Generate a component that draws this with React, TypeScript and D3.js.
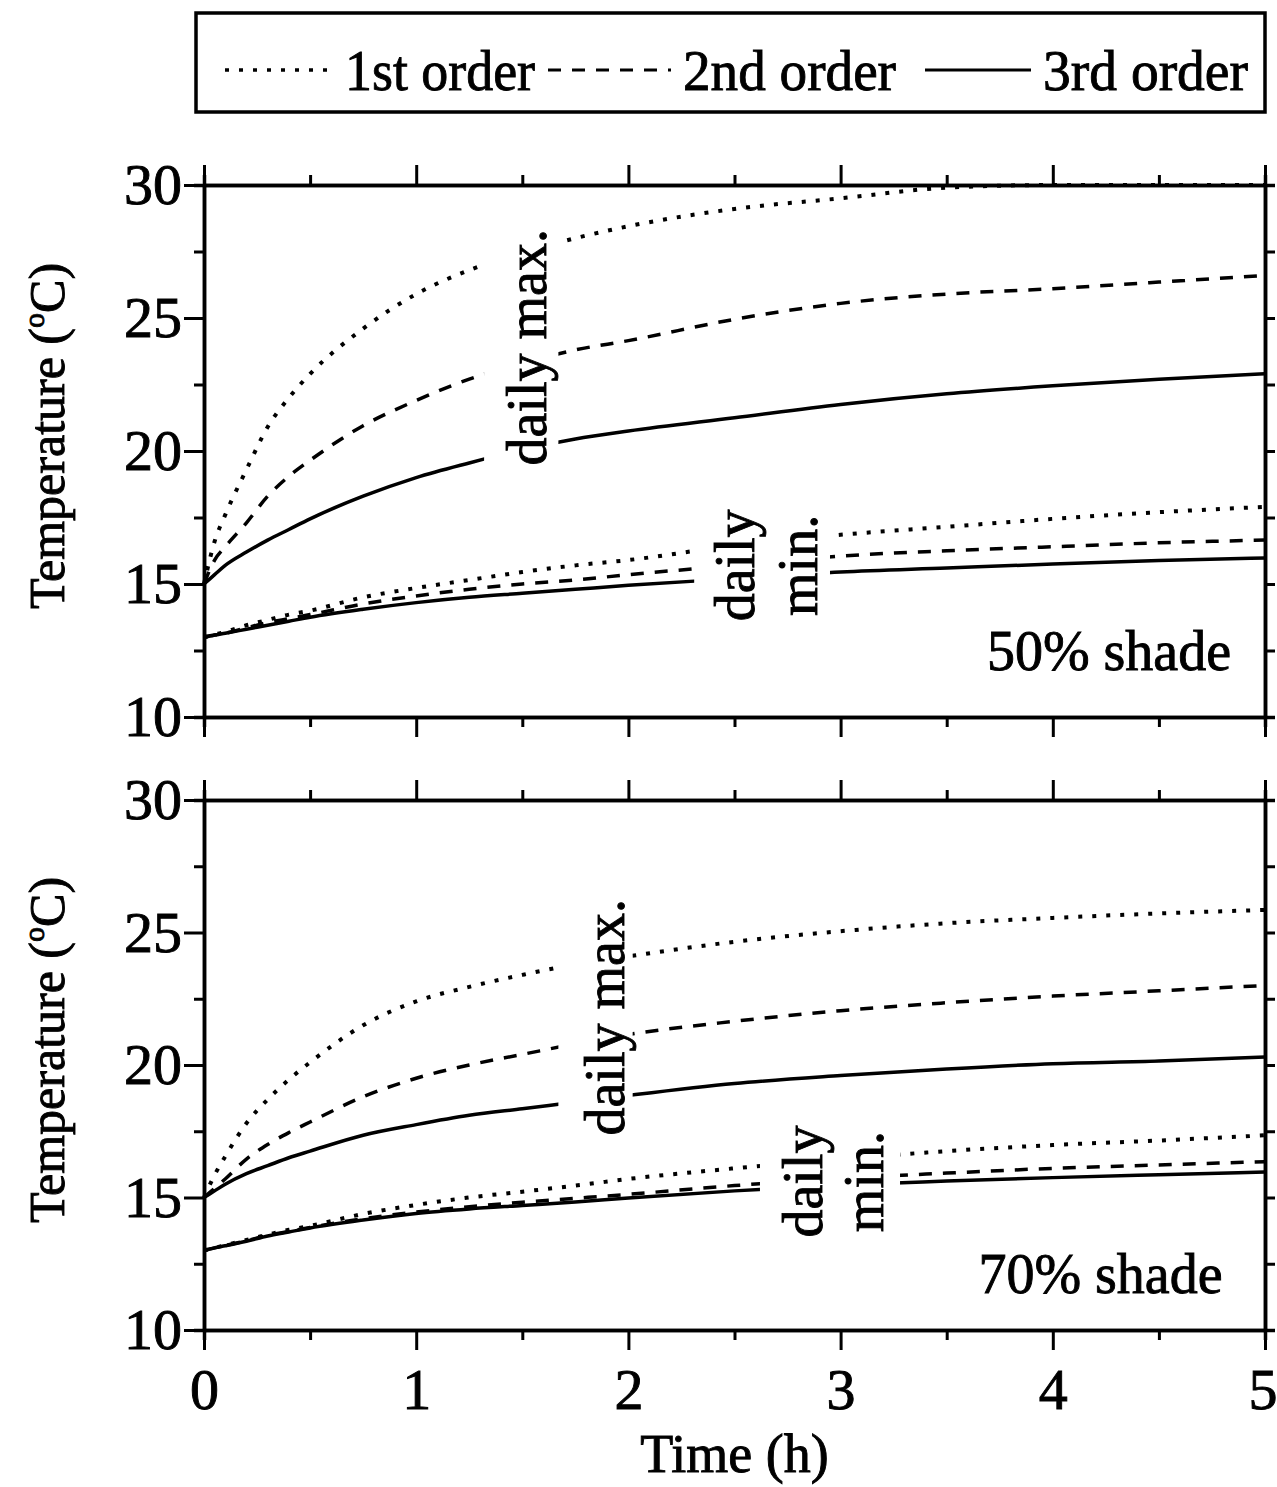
import { useEffect, useRef } from "react";
import * as d3 from "d3";

// time axis (h), shared by every curve
const timeH = [0, 0.05, 0.1, 0.2, 0.3, 0.4, 0.5, 0.75, 1, 1.25, 1.5, 1.75, 2, 2.5, 3, 3.5, 4, 4.5, 5];

// 50% shade
const max50First = [15, 16.6, 17.6, 19.3, 20.9, 22.0, 22.9, 24.6, 25.9, 26.8, 27.45, 28.0, 28.45, 29.1, 29.5, 29.9, 30, 30, 30];
const max50Second = [15, 15.9, 16.4, 17.3, 18.3, 19.05, 19.65, 20.95, 21.9, 22.7, 23.3, 23.8, 24.15, 24.95, 25.55, 25.9, 26.1, 26.35, 26.6];
const max50Third = [15, 15.35, 15.7, 16.2, 16.65, 17.05, 17.45, 18.3, 19.0, 19.55, 20.05, 20.45, 20.75, 21.25, 21.75, 22.15, 22.45, 22.7, 22.9];
const min50First = [13, 13.1, 13.2, 13.45, 13.65, 13.85, 14.0, 14.5, 14.85, 15.15, 15.45, 15.7, 15.9, 16.45, 16.85, 17.15, 17.45, 17.7, 17.9];
const min50Second = [13, 13.08, 13.15, 13.35, 13.55, 13.7, 13.85, 14.25, 14.55, 14.8, 15.0, 15.15, 15.35, 15.7, 16.05, 16.25, 16.4, 16.55, 16.65];
const min50Third = [13, 13.08, 13.15, 13.3, 13.45, 13.6, 13.75, 14.05, 14.3, 14.5, 14.65, 14.8, 14.95, 15.2, 15.45, 15.6, 15.75, 15.88, 15.98];

// 70% shade
const max70First = [15, 15.85, 16.55, 17.8, 18.7, 19.45, 20.1, 21.5, 22.4, 22.95, 23.4, 23.8, 24.1, 24.65, 25.05, 25.35, 25.55, 25.72, 25.85];
const max70Second = [15, 15.35, 15.7, 16.45, 17.0, 17.45, 17.85, 18.8, 19.5, 20.0, 20.4, 20.8, 21.15, 21.65, 22.05, 22.35, 22.6, 22.8, 23.0];
const max70Third = [15, 15.25, 15.5, 15.9, 16.2, 16.5, 16.75, 17.35, 17.75, 18.1, 18.35, 18.6, 18.85, 19.3, 19.6, 19.85, 20.05, 20.15, 20.3];
const min70First = [13, 13.1, 13.2, 13.4, 13.6, 13.78, 13.93, 14.38, 14.72, 15.0, 15.22, 15.45, 15.7, 16.1, 16.45, 16.75, 16.98, 17.15, 17.35];
const min70Second = [13, 13.1, 13.19, 13.37, 13.57, 13.72, 13.87, 14.2, 14.45, 14.65, 14.82, 14.97, 15.12, 15.45, 15.72, 15.92, 16.1, 16.23, 16.35];
const min70Third = [13, 13.1, 13.18, 13.35, 13.55, 13.7, 13.85, 14.15, 14.4, 14.57, 14.7, 14.83, 14.98, 15.25, 15.47, 15.62, 15.75, 15.86, 15.96];

const orders = ["1st order", "2nd order", "3rd order"];
const shadeLabels = ["50% shade", "70% shade"];
const xTicks = [0, 1, 2, 3, 4, 5];
const xMinor = [0.5, 1.5, 2.5, 3.5, 4.5];
const yTicks = [10, 15, 20, 25, 30];
const yMinor = [12.5, 17.5, 22.5, 27.5];

const FONT = "'Liberation Serif', 'Times New Roman', serif";
const dashes = ["4 10", "13 11", "none"];
const widths = [4, 3.5, 3.5];

// scanned look: glyphs a bit heavier than plain Times
const ink = (sel: any) => sel.attr("fill", "#000").attr("stroke", "#000").attr("stroke-width", 0.9);

export default function App() {
  const ref = useRef<SVGSVGElement>(null);

  useEffect(() => {
    const svg = d3.select(ref.current);
    svg.selectAll("*").remove();

    const x = d3.scaleLinear().domain([0, 5]).range([204, 1265]);

    const panels = [
      {
        top: 185, bottom: 717, shade: shadeLabels[0], tickLabelsX: false,
        max: [max50First, max50Second, max50Third],
        min: [min50First, min50Second, min50Third],
        maxGap: [1.32, 1.67, 18.5, 29.5], minGap: [2.31, 2.95, 14.4, 18],
        maxLabel: [1.61, 23.9], minLabel: [2.59, 2.89, 15.7], shadePos: [4.84, 11.77],
      },
      {
        top: 800, bottom: 1330, shade: shadeLabels[1], tickLabelsX: true,
        max: [max70First, max70Second, max70Third],
        min: [min70First, min70Second, min70Third],
        maxGap: [1.67, 2.02, 17.5, 25.5], minGap: [2.62, 3.28, 14.8, 17.5],
        maxLabel: [1.98, 21.8], minLabel: [2.91, 3.2, 15.6], shadePos: [4.8, 11.4],
      },
    ];

    panels.forEach((p, pi) => {
      const y = d3.scaleLinear().domain([10, 30]).range([p.bottom, p.top]);
      const g = svg.append("g");

      // gaps in the curves where the labels sit
      const mask = g.append("mask").attr("id", "gap" + pi);
      mask.append("rect").attr("x", 0).attr("y", 0).attr("width", 1277).attr("height", 1487).attr("fill", "white");
      [p.maxGap, p.minGap].forEach((gp) => {
        mask.append("rect")
          .attr("x", x(gp[0])).attr("width", x(gp[1]) - x(gp[0]))
          .attr("y", y(gp[3])).attr("height", y(gp[2]) - y(gp[3]))
          .attr("fill", "black");
      });

      const line = d3.line<number>()
        .x((d, i) => x(timeH[i]))
        .y((d) => y(d))
        .curve(d3.curveMonotoneX);

      const curves = g.append("g").attr("mask", `url(#gap${pi})`);
      [...p.max, ...p.min].forEach((s, i) => {
        curves.append("path")
          .attr("d", line(s))
          .attr("fill", "none")
          .attr("stroke", "#000")
          .attr("stroke-width", widths[i % 3])
          .attr("stroke-dasharray", dashes[i % 3]);
      });

      // axes on all four sides
      const axes = [
        { gen: d3.axisLeft(y), pos: `translate(${x(0)},0)`, major: yTicks, minor: yMinor, lab: true, big: 20, small: 10 },
        { gen: d3.axisRight(y), pos: `translate(${x(5)},0)`, major: yTicks, minor: yMinor, lab: false, big: 10, small: 10 },
        { gen: d3.axisTop(x), pos: `translate(0,${y(30)})`, major: xTicks, minor: xMinor, lab: false, big: 20, small: 10 },
        { gen: d3.axisBottom(x), pos: `translate(0,${y(10)})`, major: xTicks, minor: xMinor, lab: p.tickLabelsX, big: 20, small: 10 },
      ];
      axes.forEach((a, ai) => {
        const ax = g.append("g").attr("transform", a.pos);
        ax.call(
          a.gen.tickValues(a.major).tickSize(a.big).tickSizeOuter(0)
            .tickPadding(ai === 0 ? 2 : 18)
            .tickFormat((d) => (a.lab ? String(d) : ""))
        );
        ax.append("g").call(a.gen.tickValues(a.minor).tickSize(a.small).tickFormat(() => ""));
        ax.selectAll("g.tick line").attr("stroke-width", 3);
        ax.selectAll("path.domain").attr("stroke-width", 3.5);
        ink(ax.selectAll("text").attr("font-family", FONT).attr("font-size", 58));
        // keep the last time label inside the page, as in the original
        if (ai === 3) {
          ax.selectAll("g.tick text").filter((d: any) => d === 5).attr("text-anchor", "end").attr("x", 12);
        }
      });

      // y title
      const yMid = (p.top + p.bottom) / 2 - 15;
      const t = g.append("text")
        .attr("transform", `translate(64,${yMid}) rotate(-90)`)
        .attr("text-anchor", "middle")
        .attr("font-family", FONT)
        .attr("font-size", 50);
      ink(t);
      t.append("tspan").text("Temperature (");
      t.append("tspan").text("o").attr("font-size", 30).attr("dy", -20);
      t.append("tspan").text("C)").attr("dy", 20);

      // curve labels
      const lab = (tx: number, ty: number, s: string) =>
        ink(g.append("text")
          .attr("transform", `translate(${x(tx)},${y(ty)}) rotate(-90)`)
          .attr("text-anchor", "middle")
          .attr("font-family", FONT)
          .attr("font-size", 56)
          .text(s));
      lab(p.maxLabel[0], p.maxLabel[1], "daily max.");
      lab(p.minLabel[0], p.minLabel[2], "daily");
      lab(p.minLabel[1], p.minLabel[2], "min.");

      ink(g.append("text")
        .attr("x", x(p.shadePos[0])).attr("y", y(p.shadePos[1]))
        .attr("text-anchor", "end")
        .attr("font-family", FONT)
        .attr("font-size", 56)
        .text(p.shade));
    });

    // x title
    ink(svg.append("text")
      .attr("x", (x(0) + x(5)) / 2).attr("y", 1472)
      .attr("text-anchor", "middle")
      .attr("font-family", FONT)
      .attr("font-size", 54)
      .text("Time (h)"));

    // legend
    const lg = svg.append("g");
    lg.append("rect").attr("x", 196).attr("y", 13).attr("width", 1069).attr("height", 99)
      .attr("fill", "none").attr("stroke", "#000").attr("stroke-width", 3.5);
    const legendLine = d3.scaleOrdinal<string, number>().domain(orders).range([225, 548, 925]);
    const legendText = d3.scaleOrdinal<string, number>().domain(orders).range([345, 683, 1043]);
    const legendWidth = d3.scaleOrdinal<string, number>().domain(orders).range([190, 213, 205]);
    orders.forEach((o, i) => {
      lg.append("line")
        .attr("x1", legendLine(o)).attr("x2", legendText(o) - 12)
        .attr("y1", 70).attr("y2", 70)
        .attr("stroke", "#000").attr("stroke-width", widths[i] - 0.5)
        .attr("stroke-dasharray", dashes[i]);
      ink(lg.append("text")
        .attr("x", legendText(o)).attr("y", 90)
        .attr("font-family", FONT).attr("font-size", 58)
        .attr("textLength", legendWidth(o))
        .attr("lengthAdjust", "spacingAndGlyphs")
        .text(o));
    });
  }, []);

  return (
    <svg
      ref={ref}
      width={1277}
      height={1487}
      style={{ position: "absolute", left: 0, top: 0, background: "#fff" }}
    />
  );
}
